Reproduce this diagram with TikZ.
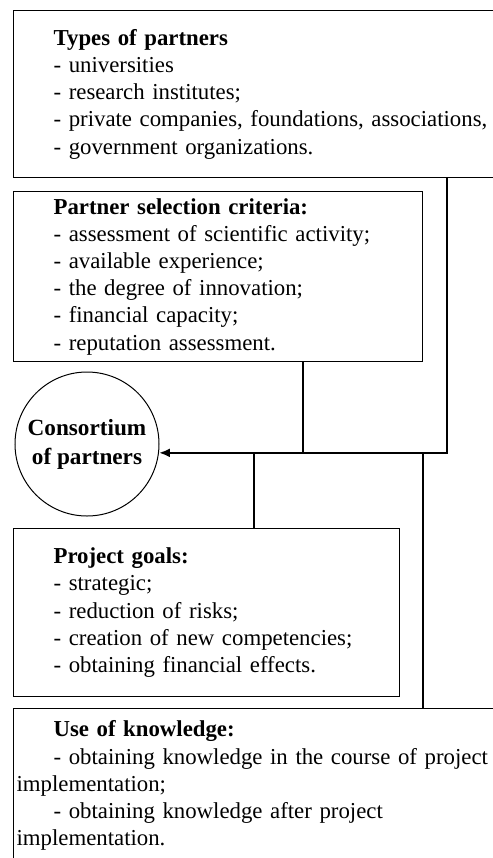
\documentclass[tikz,border=0pt]{standalone}
\usepackage{fontspec}
\setmainfont{Liberation Serif}
\usetikzlibrary{arrows.meta, positioning}

\newcommand{\ind}{\hspace*{18.5pt}}

\begin{document}
\begin{tikzpicture}[x=0.5pt, y=-0.5pt,
        block/.style={rectangle, draw, line width=0.6pt, anchor=north west, align=left,
            inner xsep=1.5pt, font=\fontsize{11.4}{13.6}\selectfont},
        link/.style={line width=1.1pt}]
    \useasboundingbox (0,0) rectangle (493,858);
    \clip (0,0) rectangle (493,858);

    \node[block, text width=260pt, minimum height=83.5pt] (types) at (13,10) {%
        \ind\textbf{Types of partners}\\
        \ind- universities\\
        \ind- research institutes;\\
        \ind- private companies, foundations, associations,\\
        \ind- government organizations.};
    \node[block, text width=201.5pt, minimum height=83.5pt] (crit) at (13,191) {%
        \ind\textbf{Partner selection criteria:}\\
        \ind- assessment of scientific activity;\\
        \ind- available experience;\\
        \ind- the degree of innovation;\\
        \ind- financial capacity;\\
        \ind- reputation assessment.};
    \node[circle, draw, line width=0.5pt, minimum size=72pt, inner sep=0pt, align=center,
        font=\fontsize{11.6}{14.5}\selectfont\bfseries] (consort) at (87,444) {Consortium\\of partners};
    \node[block, text width=190pt, minimum height=84pt] (goals) at (13,528) {%
        \ind\textbf{Project goals:}\\
        \ind- strategic;\\
        \ind- reduction of risks;\\
        \ind- creation of new competencies;\\
        \ind- obtaining financial effects.};
    \node[block, text width=260pt, minimum height=77pt] (knowl) at (13,708) {%
        \ind\textbf{Use of knowledge:}\\
        \ind- obtaining knowledge in the course of project\\
        implementation;\\
        \ind- obtaining knowledge after project\\
        implementation.};

    % taps on the common line
    \coordinate (jtypes) at (447,453);
    \coordinate (jcrit) at (303,453);
    \coordinate (jgoals) at (254,453);
    \coordinate (jknowl) at (423,453);

    \draw[link, -{Latex[length=5.5pt, width=4.5pt]}] (types.south -| jtypes) |- (consort.-7);
    \draw[link] (crit.south -| jcrit) -- (jcrit)
        (goals.north -| jgoals) -- (jgoals)
        (knowl.north -| jknowl) -- (jknowl);
\end{tikzpicture}
\end{document}
